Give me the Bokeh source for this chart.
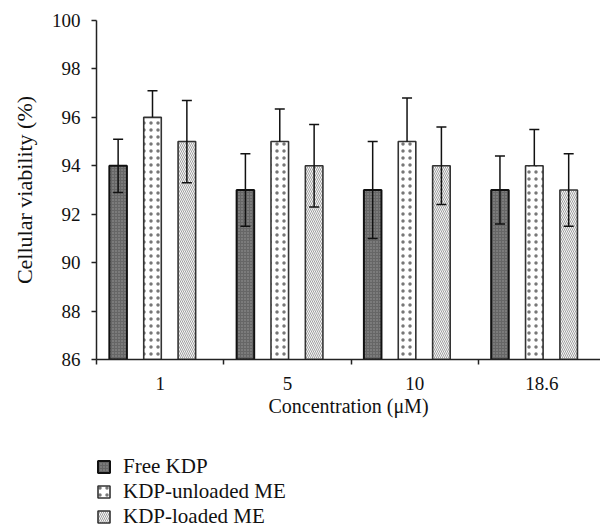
from bokeh.plotting import figure
from bokeh.layouts import column
from bokeh.models import (Range1d, FixedTicker, Whisker, TeeHead,
                          ColumnDataSource, Legend, LegendItem)
from bokeh.embed import file_html
from bokeh.resources import INLINE

# ---- data ----
categories = ["1", "5", "10", "18.6"]
free_kdp = [94, 93, 93, 93]
free_kdp_err = [1.1, 1.5, 2.0, 1.4]
unloaded_me = [96, 95, 95, 94]
unloaded_me_err = [1.1, 1.35, 1.8, 1.5]
loaded_me = [95, 94, 94, 93]
loaded_me_err = [1.7, 1.7, 1.6, 1.5]
series_names = ["Free KDP", "KDP-unloaded ME", "KDP-loaded ME"]
y_ticks = [86, 88, 90, 92, 94, 96, 98, 100]

FONT = "Liberation Serif"
Y0 = 86

styles = [
    dict(fill_color="#666666", line_color="#111111", line_width=2,
         hatch_pattern="dot", hatch_color="#9a9a9a", hatch_scale=3, hatch_weight=1),
    dict(fill_color="white", line_color="#333333", line_width=1.6,
         hatch_pattern="dot", hatch_color="#777777", hatch_scale=7, hatch_weight=1.5),
    dict(fill_color="#f7f7f7", line_color="#333333", line_width=1.6,
         hatch_pattern="left_diagonal_line", hatch_color="#a0a0a0", hatch_scale=4,
         hatch_weight=1),
]

p = figure(width=600, height=440, output_backend="svg", toolbar_location=None,
           x_range=Range1d(0, 3.96), y_range=Range1d(86, 100),
           min_border_left=96, min_border_right=0, min_border_top=20,
           min_border_bottom=81)
p.outline_line_color = None
p.xgrid.visible = False
p.ygrid.visible = False

n = len(categories)
offsets = [0.17, 0.44, 0.71]
bar_w = 0.138

def src(vals, errs, off, one_sided=False):
    xs = [i + off for i in range(n)]
    up = [v + e for v, e in zip(vals, errs)]
    lo = list(vals) if one_sided else [v - e for v, e in zip(vals, errs)]
    return ColumnDataSource(dict(x=xs, top=vals, upper=up, lower=lo))

sources = [src(free_kdp, free_kdp_err, offsets[0]),
           src(unloaded_me, unloaded_me_err, offsets[1], one_sided=True),
           src(loaded_me, loaded_me_err, offsets[2])]

for s, st, lower_head in zip(sources, styles, (True, False, True)):
    p.vbar(x="x", top="top", bottom=Y0, width=bar_w, source=s, **st)
    w = Whisker(source=s, base="x", upper="upper", lower="lower",
                line_color="#111111", line_width=1.5, level="overlay",
                upper_head=TeeHead(size=10, line_color="#111111", line_width=1.5),
                lower_head=TeeHead(size=10, line_color="#111111", line_width=1.5) if lower_head else None)
    p.add_layout(w)

# y axis
p.yaxis.ticker = FixedTicker(ticks=y_ticks)
p.yaxis.minor_tick_line_color = None
p.yaxis.major_tick_in = 0
p.yaxis.major_tick_out = 5
p.yaxis.axis_line_color = "#222222"
p.yaxis.axis_line_width = 1.5
p.yaxis.major_tick_line_color = "#222222"
p.yaxis.major_tick_line_width = 1.5
p.yaxis.major_label_text_font = FONT
p.yaxis.major_label_text_font_size = "19px"
p.yaxis.major_label_text_color = "#111111"
p.yaxis.major_label_standoff = 11
p.yaxis.axis_label = "Cellular viability (%)"
p.yaxis.axis_label_text_font = FONT
p.yaxis.axis_label_text_font_size = "22px"
p.yaxis.axis_label_text_font_style = "normal"
p.yaxis.axis_label_text_color = "#111111"
p.yaxis.axis_label_standoff = 12

# x axis: labels at group centres, tick marks (minor) at category boundaries
xa = p.xaxis[0]
xa.ticker = FixedTicker(ticks=[i + 0.5 for i in range(n)],
                        minor_ticks=list(range(n + 1)))
xa.major_label_overrides = {i + 0.5: c for i, c in enumerate(categories)}
xa.major_tick_line_color = None
xa.major_tick_in = 0
xa.major_tick_out = 5
xa.minor_tick_in = 0
xa.minor_tick_out = 5
xa.minor_tick_line_color = "#222222"
xa.minor_tick_line_width = 1.5
xa.axis_line_color = "#222222"
xa.axis_line_width = 1.5
xa.major_label_text_font = FONT
xa.major_label_text_font_size = "19px"
xa.major_label_text_color = "#111111"
xa.major_label_standoff = 12
xa.axis_label = "Concentration (\u03bcM)"
xa.axis_label_text_font = FONT
xa.axis_label_text_font_size = "20px"
xa.axis_label_text_font_style = "normal"
xa.axis_label_text_color = "#111111"
xa.axis_label_standoff = 2

# ---- legend panel underneath (its frame is aligned with the main plot's) ----
p2 = figure(width=600, height=89, output_backend="svg", toolbar_location=None,
            x_axis_type=None, y_axis_type=None,
            x_range=Range1d(0, 1), y_range=Range1d(0, 1),
            min_border=0)
p2.outline_line_color = None
row_bottoms = [50, 25, 0]   # pixel offsets of each legend row from panel bottom
for name, st, yb in zip(series_names, styles, row_bottoms):
    # key-only renderer: a degenerate (zero-size) bar that draws nothing
    r = p2.vbar(x=[0.95], top=[0.5], bottom=0.5, width=0, **st)
    lg = Legend(items=[LegendItem(label=name, renderers=[r])],
                location=(0, yb), border_line_color=None,
                background_fill_alpha=0, padding=0, margin=0,
                glyph_width=15, glyph_height=15, label_standoff=12,
                label_height=13, label_text_font=FONT,
                label_text_font_size="21px", label_text_color="#111111")
    p2.add_layout(lg)

open("out.html", "w").write(file_html(column(p, p2, spacing=0), INLINE))
